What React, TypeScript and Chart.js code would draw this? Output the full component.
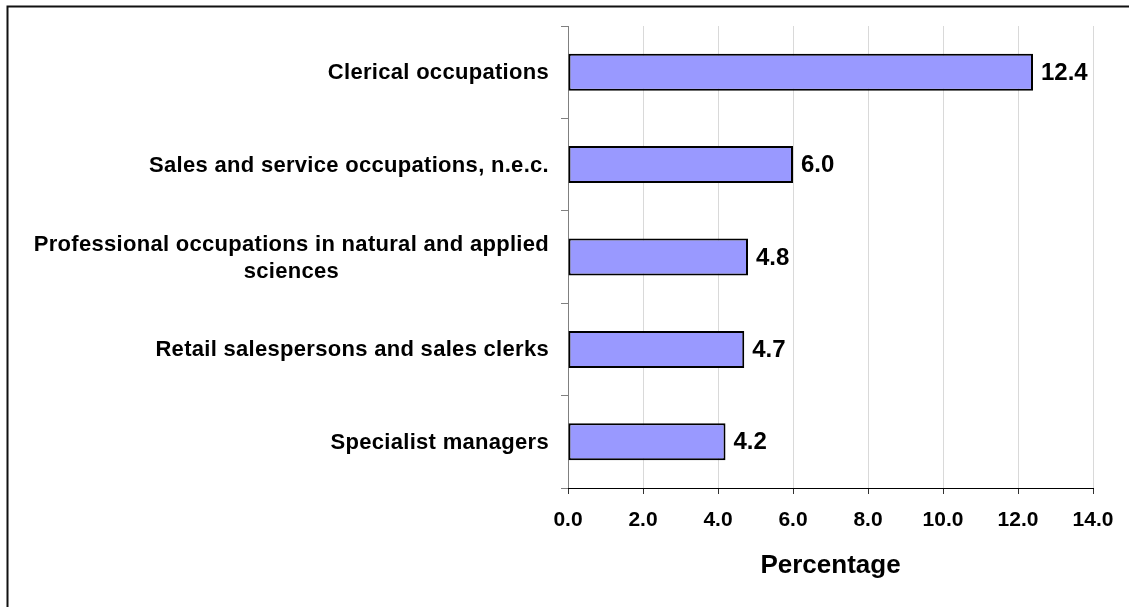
import React, { useEffect, useRef } from "react";
import { Chart, registerables } from "chart.js";

Chart.register(...registerables);

const categories: string[][] = [
  ["Clerical occupations"],
  ["Sales and service occupations, n.e.c."],
  ["Professional occupations in natural and applied", "sciences"],
  ["Retail salespersons and sales clerks"],
  ["Specialist managers"],
];
const percentages: number[] = [12.4, 6.0, 4.8, 4.7, 4.2];
const xTicks: number[] = [0, 2, 4, 6, 8, 10, 12, 14];
const axisTitle = "Percentage";

const FONT = "'Liberation Sans', Arial, sans-serif";

export default function App() {
  const ref = useRef<HTMLCanvasElement | null>(null);

  useEffect(() => {
    if (!ref.current) return;

    const labelsPlugin = {
      id: "customLabels",
      afterDraw(chart: any) {
        const ctx = chart.ctx as CanvasRenderingContext2D;
        const yScale = chart.scales.y;
        const xScale = chart.scales.x;
        ctx.save();
        // frame
        ctx.strokeStyle = "#111";
        ctx.lineWidth = 2;
        ctx.beginPath();
        ctx.moveTo(7.5, 610);
        ctx.lineTo(7.5, 6.5);
        ctx.lineTo(1135, 6.5);
        ctx.stroke();

        // category labels
        ctx.fillStyle = "#000";
        ctx.font = `bold 22px ${FONT}`;
        (ctx as any).letterSpacing = "0.3px";
        ctx.textBaseline = "middle";
        const right = 549;
        const lineH = 27;
        categories.forEach((lines, i) => {
          const cy = yScale.getPixelForValue(i);
          const widths = lines.map((l) => ctx.measureText(l).width);
          const widest = Math.max(...widths);
          const blockCenter = right - widest / 2;
          ctx.textAlign = "center";
          lines.forEach((l, j) => {
            const y = cy + (j - (lines.length - 1) / 2) * lineH + 1;
            ctx.fillText(l, blockCenter, y);
          });
        });

        // value labels
        (ctx as any).letterSpacing = "0px";
        ctx.textAlign = "left";
        ctx.font = `bold 24px ${FONT}`;
        percentages.forEach((v, i) => {
          const x = xScale.getPixelForValue(v) + 8;
          const y = yScale.getPixelForValue(i);
          ctx.fillText(v.toFixed(1), x, y + 1);
        });
        ctx.restore();
      },
    };

    const chart = new Chart(ref.current, {
      type: "bar",
      data: {
        labels: categories.map((c) => c.join(" ")),
        datasets: [
          {
            data: percentages,
            backgroundColor: "#9999FF",
            borderColor: "#000000",
            borderWidth: 2,
            borderSkipped: false,
            categoryPercentage: 1,
            barPercentage: 0.4,
          },
        ],
      },
      options: {
        indexAxis: "y",
        responsive: false,
        animation: false,
        layout: { padding: { left: 0, right: 36, top: 26, bottom: 0 } },
        plugins: {
          legend: { display: false },
          tooltip: { enabled: false },
        },
        scales: {
          y: {
            type: "category",
            offset: true,
            afterFit: (s: any) => {
              s.width = 568;
            },
            ticks: { display: false },
            grid: {
              offset: true,
              drawOnChartArea: false,
              drawTicks: true,
              tickLength: 7,
              color: "#808080",
            },
            border: { display: true, color: "#808080", width: 1 },
          },
          x: {
            type: "linear",
            min: xTicks[0],
            max: xTicks[xTicks.length - 1],
            afterFit: (s: any) => {
              s.height = 119;
            },
            afterBuildTicks: (s: any) => {
              s.ticks = xTicks.map((v) => ({ value: v }));
            },
            ticks: {
              callback: (v: any) => Number(v).toFixed(1),
              font: { family: FONT, size: 21, weight: "bold" },
              color: "#000",
              padding: 14,
              maxRotation: 0,
            },
            grid: {
              color: "#D9D9D9",
              tickColor: "#333",
              tickLength: 6,
              lineWidth: 1,
            },
            border: { display: true, color: "#000", width: 1 },
            title: {
              display: true,
              text: axisTitle,
              color: "#000",
              font: { family: FONT, size: 26, weight: "bold" },
              padding: { top: 0, bottom: 26 },
            },
          },
        },
      },
      plugins: [labelsPlugin],
    } as any);

    return () => chart.destroy();
  }, []);

  return (
    <div style={{ position: "absolute", left: 0, top: 0, width: 1129, height: 607, background: "#fff" }}>
      <canvas ref={ref} width={1129} height={607} style={{ display: "block" }} />
    </div>
  );
}
